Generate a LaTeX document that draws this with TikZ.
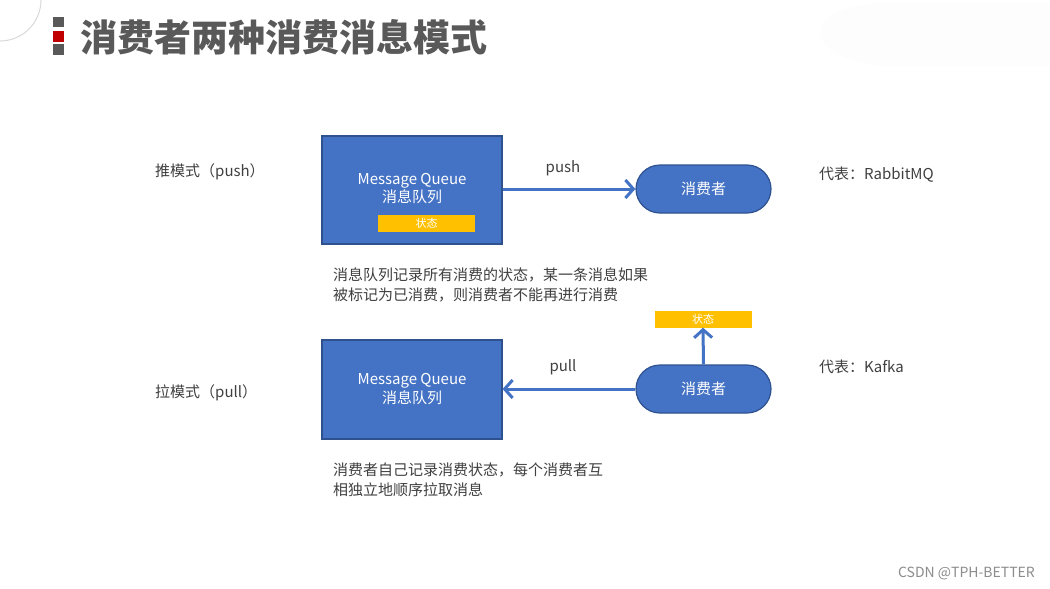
\documentclass[tikz,border=0pt]{standalone}
\usepackage{fontspec}
\setmainfont{Noto Sans CJK SC}
\usetikzlibrary{arrows.meta,shapes.misc}
\definecolor{mqblue}{HTML}{4472C4}
\definecolor{mqborder}{HTML}{2F528F}
\definecolor{stateyellow}{HTML}{FFC000}
\definecolor{txt}{HTML}{404040}
\definecolor{titlegray}{HTML}{595959}
\definecolor{barred}{HTML}{C00000}
\definecolor{faint}{HTML}{FDFDFD}
\tikzset{
  mqbox/.style={draw=mqborder,line width=1.2pt,fill=mqblue,minimum width=180pt,minimum height=108pt,inner sep=0pt,text=white,align=center,font=\fontsize{15}{19}\selectfont},
  consumer/.style={rounded rectangle,draw=mqborder,line width=1.2pt,fill=mqblue,minimum width=135pt,minimum height=48pt,inner sep=0pt,text=white,font=\fontsize{15}{18}\selectfont},
  statebox/.style={fill=stateyellow,minimum width=97pt,minimum height=17pt,inner sep=0pt,text=white,font=\fontsize{11}{12}\selectfont},
  flow/.style={draw=mqblue,line width=3pt,-{Straight Barb[length=8pt,width=18pt,line width=3pt]}},
  body/.style={text=txt,font=\fontsize{15}{20}\selectfont,inner sep=0pt},
  para/.style={body,anchor=north west,align=left},
  sq/.style={inner sep=0pt,minimum width=11pt,minimum height=10.5pt}
}
\begin{document}
\begin{tikzpicture}[x=1pt,y=-1pt]
\useasboundingbox (0,0) rectangle (1050,589);
\fill[white] (0,0) rectangle (1050,589);
\begin{scope}
\clip (0,0) rectangle (1050,589);
% decorative corner circle
\draw[black!15,line width=1pt] (0,0) circle[radius=41];
% faint decorative shape top right
\fill[faint] (1050,3) -- (880,3) .. controls (800,8) and (800,55) .. (880,66) -- (1050,66) -- cycle;
\end{scope}
% title marks
\node[sq,fill=titlegray] (m1) at (58.5,22) {};
\node[sq,fill=barred] (m2) at (58.5,36.5) {};
\node[sq,fill=titlegray] (m3) at (58.5,49.5) {};
\node[anchor=west,inner sep=0pt,text=titlegray,font=\fontsize{37}{40}\selectfont\bfseries] (title) at (80,37) {消费者两种消费消息模式};
% push mode
\node[mqbox] (mq1) at (412,190) {};
\node[text=white,align=center,font=\fontsize{15}{18}\selectfont,inner sep=0pt] (mq1t) at (412,189) {Message Queue\\消息队列};
\node[statebox] (st1) at (426.5,223.5) {状态};
\node[consumer] (c1) at (703.5,189) {消费者};
\draw[flow] (mq1.east |- c1.west) -- (c1.west);
\node[body] (pushlbl) at (563,168) {push};
\node[body,anchor=west] (pushmode) at (155,172) {推模式（push）};
\node[body,anchor=west] (rep1) at (819,175) {代表：RabbitMQ};
\node[para] (p1) at (333,268) {消息队列记录所有消费的状态，某一条消息如果\\被标记为已消费，则消费者不能再进行消费};
% pull mode
\node[statebox] (st2) at (703,319) {状态};
\node[mqbox,minimum height=99pt] (mq2) at (412,389.5) {Message Queue\\消息队列};
\node[consumer] (c2) at (703.5,389) {消费者};
\draw[flow] (c2.west) -- (mq2.east |- c2.west);
\draw[flow] (c2.north) -- (st2.south);
\node[body] (pulllbl) at (563,367) {pull};
\node[body,anchor=west] (pullmode) at (155,393) {拉模式（pull）};
\node[body,anchor=west] (rep2) at (819,367) {代表：Kafka};
\node[para] (p2) at (333,463) {消费者自己记录消费状态，每个消费者互\\相独立地顺序拉取消息};
\node[anchor=east,inner sep=0pt,text=black!45,font=\fontsize{14}{15}\selectfont] (csdn) at (1035,573) {CSDN @TPH-BETTER};
\end{tikzpicture}
\end{document}
